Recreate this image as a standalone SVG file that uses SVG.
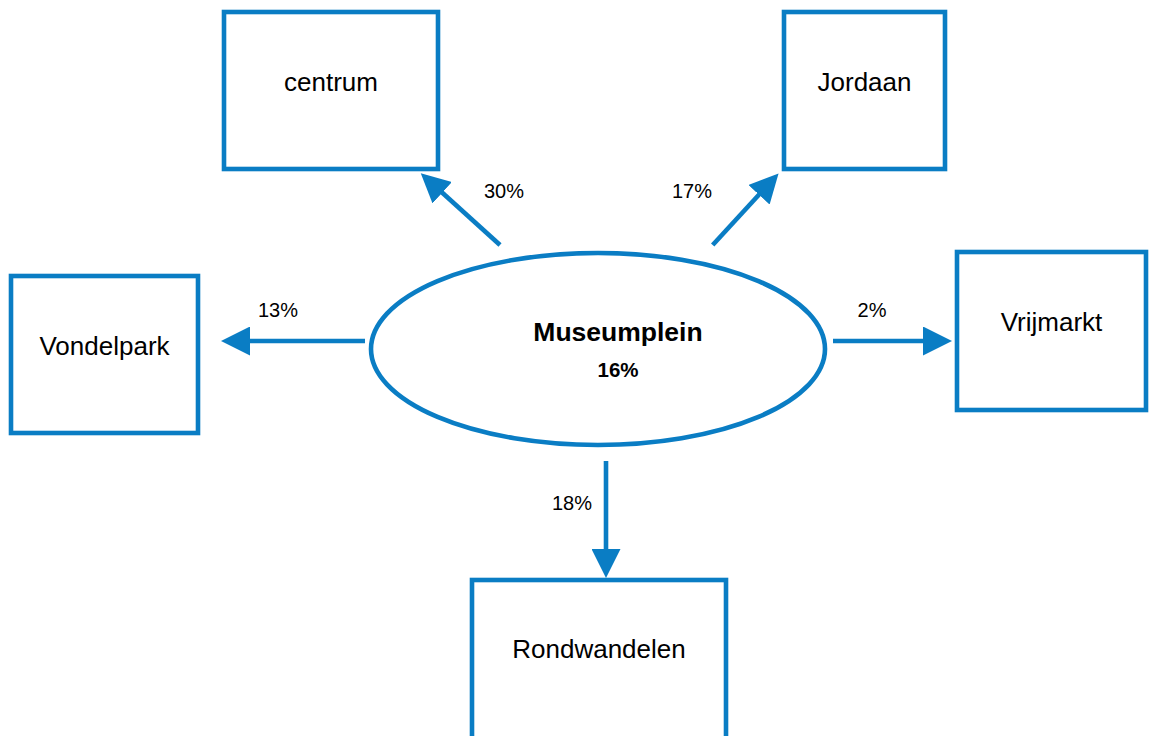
<svg xmlns="http://www.w3.org/2000/svg" width="1149" height="736" viewBox="0 0 1149 736">
<style>
.box{fill:#fff;stroke:#0A7DC4;stroke-width:4.6}
.lbl{font-family:"Liberation Sans",Arial,sans-serif;font-size:26px;fill:#000;text-anchor:middle}
.pct{font-family:"Liberation Sans",Arial,sans-serif;font-size:20px;fill:#000;text-anchor:middle}
.bold{font-family:"Liberation Sans",Arial,sans-serif;font-weight:bold;fill:#000;text-anchor:middle}
.con{stroke:#0A7DC4;stroke-width:4.6;fill:none}
</style>
<defs>
<marker id="ah" markerUnits="userSpaceOnUse" viewBox="0 0 29 29" markerWidth="29" markerHeight="29" refX="1" refY="14.5" orient="auto">
<path d="M0,0 L29,14.5 L0,29 z" fill="#0A7DC4"/>
</marker>
</defs>
<rect width="1149" height="736" fill="#fff"/>
<g id="connectors">
<path class="con" d="M365,341 L249,341" marker-end="url(#ah)"/>
<path class="con" d="M833,341 L924,341" marker-end="url(#ah)"/>
<path class="con" d="M606,461 L606,550" marker-end="url(#ah)"/>
<path class="con" d="M500,245 L441.5,192" marker-end="url(#ah)"/>
<path class="con" d="M712.7,245 L759.6,194" marker-end="url(#ah)"/>
<text class="pct" x="504" y="198">30%</text>
<text class="pct" x="692" y="198">17%</text>
<text class="pct" x="278" y="317">13%</text>
<text class="pct" x="872" y="317">2%</text>
<text class="pct" x="572" y="510">18%</text>
</g>
<g id="museumplein">
<ellipse cx="598" cy="349" rx="227" ry="96" fill="#fff" stroke="#0A7DC4" stroke-width="4.6"/>
<text class="bold" x="618" y="341" font-size="26.5">Museumplein</text>
<text class="bold" x="618" y="377" font-size="20.5">16%</text>
</g>
<g id="centrum">
<rect class="box" x="224" y="12" width="214" height="157"/>
<text class="lbl" x="331" y="91">centrum</text>
</g>
<g id="jordaan">
<rect class="box" x="784" y="12" width="161" height="157"/>
<text class="lbl" x="864.5" y="91">Jordaan</text>
</g>
<g id="vondelpark">
<rect class="box" x="11" y="276" width="187" height="157"/>
<text class="lbl" x="104.5" y="355">Vondelpark</text>
</g>
<g id="vrijmarkt">
<rect class="box" x="957" y="252" width="189" height="158"/>
<text class="lbl" x="1051.5" y="331">Vrijmarkt</text>
</g>
<g id="rondwandelen">
<rect class="box" x="472" y="580" width="254" height="170"/>
<text class="lbl" x="599" y="658">Rondwandelen</text>
</g>
</svg>
